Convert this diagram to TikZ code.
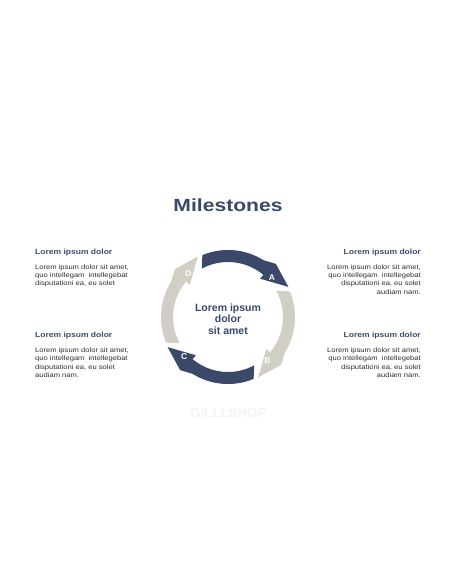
\documentclass[tikz,border=0pt]{standalone}
\usepackage{fontspec}
\setmainfont{Liberation Sans}
\newfontfamily\widefont[FakeStretch=1.15]{Liberation Sans}
\newfontfamily\titlefont[FakeStretch=1.2]{Liberation Sans}
\definecolor{navy}{HTML}{3A4869}
\definecolor{headnavy}{HTML}{3E4A68}
\definecolor{ringgray}{HTML}{D0CEC5}
\definecolor{bodygray}{HTML}{2E2E2E}
\definecolor{wmgray}{HTML}{F4F4F4}
\tikzset{
  heading/.style={inner sep=0pt, font=\widefont\bfseries\fontsize{7.4}{8.9}\selectfont, text=headnavy},
  bodytxt/.style={inner sep=0pt, font=\widefont\fontsize{6.6}{8.2}\selectfont, text=bodygray},
  letter/.style={inner sep=0pt, font=\bfseries\fontsize{8.5}{9}\selectfont, text=white},
  centertxt/.style={inner sep=0pt, align=center, font=\bfseries\fontsize{10.5}{11.6}\selectfont, text=navy},
}
\newcommand\ringarrow[4]{%
  \begin{scope}[rotate=#2]
    \fill[#1] (112.5:67pt) arc[start angle=112.5, end angle=58, radius=67pt]
      -- (48:71.5pt) -- (26.5:67.5pt) -- (50:50pt) -- (50:55pt)
      arc[start angle=50, end angle=118.5, radius=55pt] -- cycle;
    \node[letter] (#3) at (42:59pt) {#4};
  \end{scope}}
\begin{document}
\begin{tikzpicture}[x=1pt,y=1pt]
\useasboundingbox[fill=white] (0,0) rectangle (456,-586);

\node[inner sep=0pt, anchor=base, font=\titlefont\bfseries\fontsize{17.6}{20}\selectfont, text=navy] (title) at (228,-211.7) {Milestones};

\begin{scope}[shift={(228,-317)}]
  \ringarrow{navy}{0}{la}{A}
  \ringarrow{ringgray}{-90}{lb}{B}
  \ringarrow{navy}{-180}{lc}{C}
  \ringarrow{ringgray}{90}{ld}{D}
  \node[centertxt, anchor=north] (centre) at (0,13.6) {Lorem ipsum\\dolor\\sit amet};
\end{scope}

% left column
\node[heading, anchor=base west] (h1) at (35,-254.3) {Lorem ipsum dolor};
\node[bodytxt, anchor=north west, align=left] (b1) at (35,-264.5) {Lorem ipsum dolor sit amet,\\quo intellegam\ \ intellegebat\\disputationi ea, eu solet};
\node[heading, anchor=base west] (h3) at (35,-337.6) {Lorem ipsum dolor};
\node[bodytxt, anchor=north west, align=left] (b3) at (35,-347.8) {Lorem ipsum dolor sit amet,\\quo intellegam\ \ intellegebat\\disputationi ea, eu solet\\audiam nam.};

% right column
\node[heading, anchor=base east] (h2) at (421,-254.3) {Lorem ipsum dolor};
\node[bodytxt, anchor=north east, align=right] (b2) at (421,-264.5) {Lorem ipsum dolor sit amet,\\quo intellegam\ \ intellegebat\\disputationi ea, eu solet\\audiam nam.};
\node[heading, anchor=base east] (h4) at (421,-337.6) {Lorem ipsum dolor};
\node[bodytxt, anchor=north east, align=right] (b4) at (421,-347.8) {Lorem ipsum dolor sit amet,\\quo intellegam\ \ intellegebat\\disputationi ea, eu solet\\audiam nam.};

% watermark
\node[inner sep=0pt, anchor=base, font=\bfseries\fontsize{13.3}{15}\selectfont, text=wmgray] (wm) at (228.5,-417.7) {GILLLSHOP};
\end{tikzpicture}
\end{document}
